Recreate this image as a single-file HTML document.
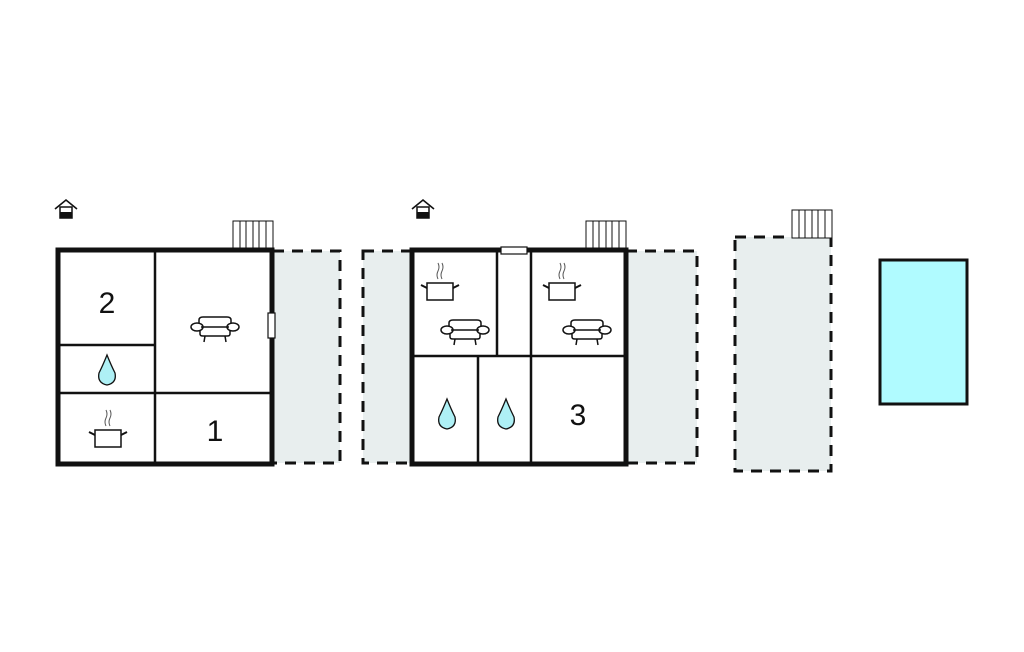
<!DOCTYPE html>
<html><head><style>html,body{margin:0;padding:0;background:#fff}svg{display:block}</style></head><body>
<svg width="1024" height="652" viewBox="0 0 1024 652" xmlns="http://www.w3.org/2000/svg">
<defs>
<g id="sofa" fill="#fff" stroke="#111" stroke-width="1.5">
<path d="M-16 -1 V-8 Q-16 -11 -12 -11 H12 Q16 -11 16 -8 V-1"/>
<path d="M-15 -1 V6 Q-15 8 -12 8 H12 Q15 8 15 6 V-1"/>
<ellipse cx="-18" cy="-1" rx="6" ry="4"/>
<ellipse cx="18" cy="-1" rx="6" ry="4"/>
<line x1="-14" y1="-1" x2="14" y2="-1"/>
<path d="M-10 8 L-11 14 M10 8 L11 14" fill="none"/>
</g>
<g id="pot" fill="#fff" stroke="#111" stroke-width="1.5">
<rect x="-13" y="-5" width="26" height="17"/>
<path d="M-13 0 L-19 -3 M13 0 L19 -3" fill="none" stroke-width="2"/>
<path d="M-2 -9 Q-4 -13 -2 -17 Q0 -21 -2 -25 M2 -9 Q0 -13 2 -17 Q4 -21 2 -25" fill="none" stroke="#555" stroke-width="1"/>
</g>
<path id="drop" d="M0 -16 Q-4 -6 -8 2 Q-10 12 0 14 Q10 12 8 2 Q4 -6 0 -16Z" fill="#aef0f5" stroke="#111" stroke-width="1.3"/>
<g id="stairs" fill="#fff" stroke="#111" stroke-width="1">
<rect x="0" y="0" width="40" height="28"/>
<path d="M7 0V28M13 0V28M20 0V28M26 0V28M33 0V28"/>
</g>
<g id="house">
<path d="M-11 -1 L0 -10 L11 -1" fill="none" stroke="#111" stroke-width="1.6"/>
<rect x="-6" y="-3" width="12" height="11" fill="#fff" stroke="#111" stroke-width="1.5"/>
<rect x="-6" y="2" width="12" height="6" fill="#111"/>
</g>
</defs>
<g stroke="#111" stroke-width="3" stroke-dasharray="11,8" fill="#e8eeee">
<rect x="273" y="251" width="67" height="212"/>
<rect x="363" y="251" width="49" height="212"/>
<rect x="626" y="251" width="71" height="212"/>
<rect x="735" y="237" width="96" height="234"/>
</g>
<rect x="880" y="260" width="87" height="144" fill="#b0fbff" stroke="#111" stroke-width="3"/>
<use href="#stairs" x="233" y="221"/>
<use href="#stairs" x="586" y="221"/>
<use href="#stairs" x="792" y="210"/>
<use href="#house" x="66" y="210"/>
<use href="#house" x="423" y="210"/>
<rect x="58" y="250" width="214" height="214" fill="#fff" stroke="#111" stroke-width="5"/>
<g stroke="#111" stroke-width="2.5">
<line x1="155" y1="250" x2="155" y2="464"/>
<line x1="58" y1="345" x2="155" y2="345"/>
<line x1="58" y1="393" x2="272" y2="393"/>
</g>
<rect x="268" y="313" width="7" height="25" fill="#fff" stroke="#111" stroke-width="1.2"/>
<use href="#sofa" x="215" y="328"/>
<use href="#drop" x="107" y="371"/>
<use href="#pot" x="108" y="435"/>
<rect x="412" y="250" width="214" height="214" fill="#fff" stroke="#111" stroke-width="5"/>
<g stroke="#111" stroke-width="2.5">
<line x1="412" y1="356" x2="626" y2="356"/>
<line x1="497" y1="250" x2="497" y2="356"/>
<line x1="531" y1="250" x2="531" y2="464"/>
<line x1="478" y1="356" x2="478" y2="464"/>
</g>
<rect x="501" y="247" width="26" height="7" fill="#fff" stroke="#111" stroke-width="1.2"/>
<use href="#pot" x="440" y="288"/>
<use href="#pot" x="562" y="288"/>
<use href="#sofa" x="465" y="331"/>
<use href="#sofa" x="587" y="331"/>
<use href="#drop" x="447" y="415"/>
<use href="#drop" x="506" y="415"/>
<g font-family="Liberation Sans, sans-serif" font-size="30" fill="#111" text-anchor="middle">
<text x="107" y="313">2</text>
<text x="215" y="441">1</text>
<text x="578" y="425">3</text>
</g>
</svg>
</body></html>
